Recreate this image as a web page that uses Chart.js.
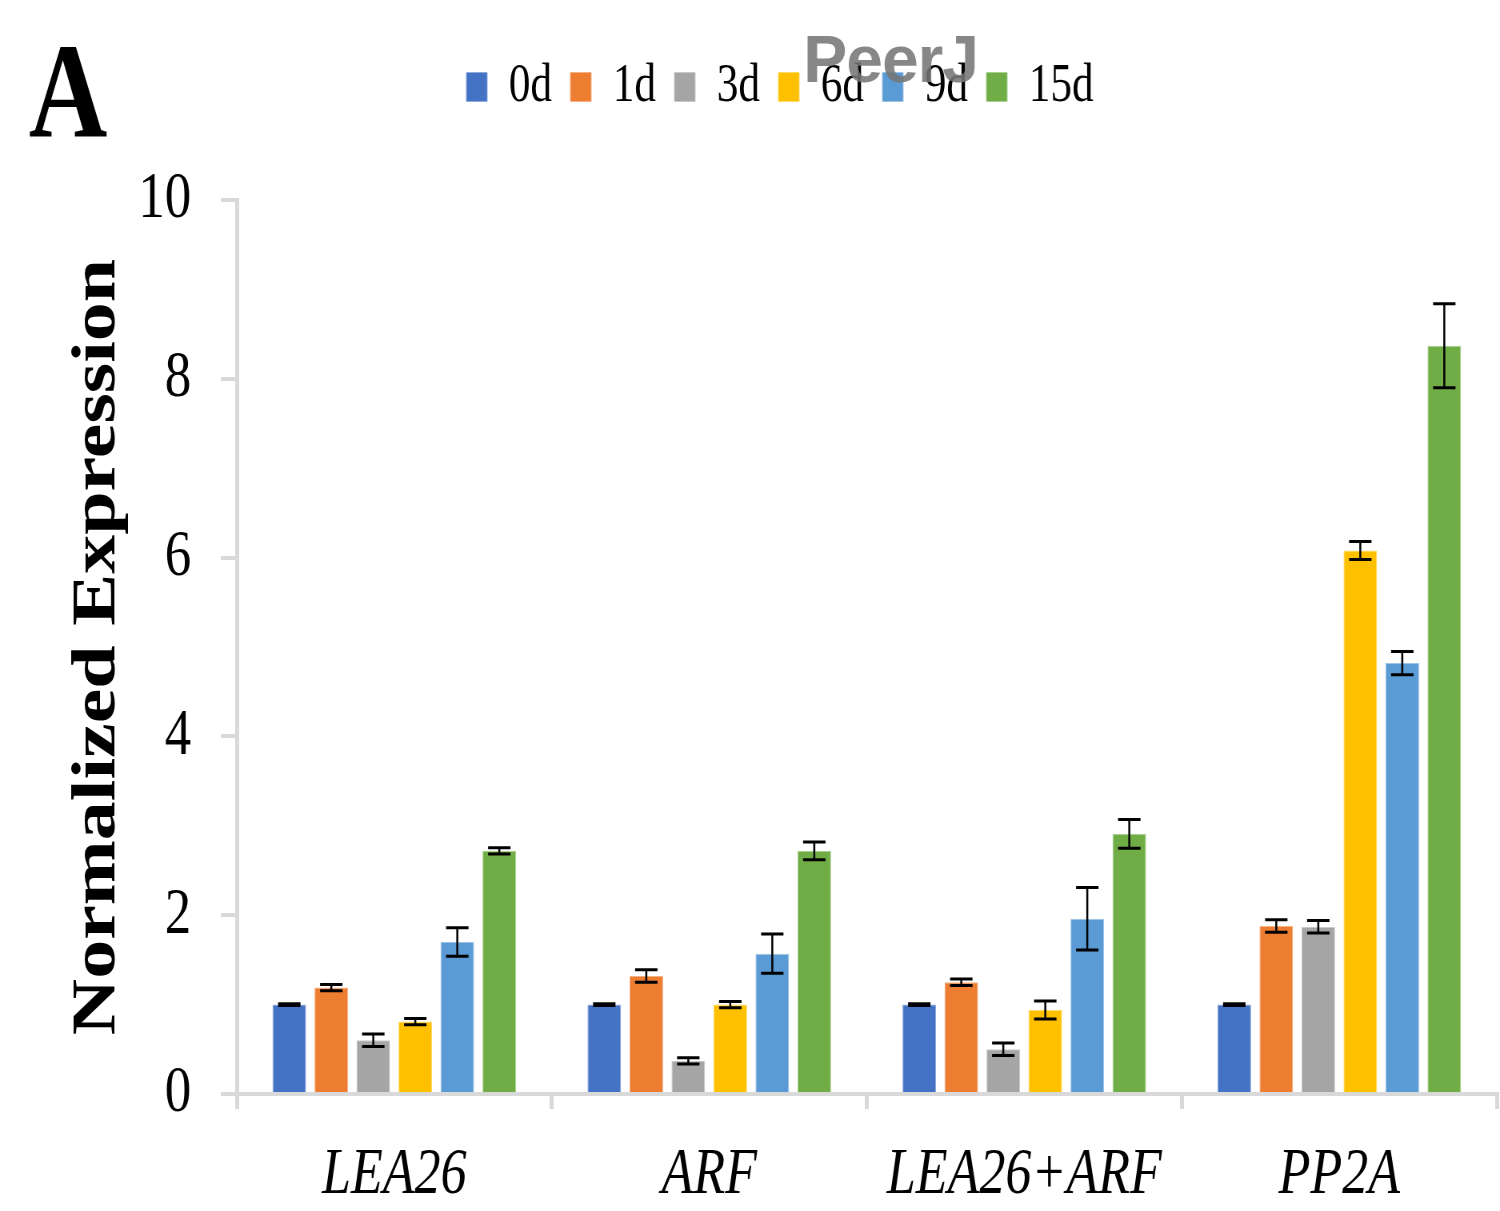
<!DOCTYPE html>
<html>
<head>
<meta charset="utf-8">
<script src="https://cdn.jsdelivr.net/npm/chart.js@4.4.0/dist/chart.umd.min.js"></script>
<style>
  html, body { margin: 0; padding: 0; background: #fff; }
  canvas { display: block; }
</style>
</head>
<body>
<!-- the original figure is squeezed sideways, so the canvas is drawn wider and shrunk by css -->
<canvas id="grafico" width="1875" height="1211" style="width:1500px;height:1211px"></canvas>
<script>
const categories = ['LEA26', 'ARF', 'LEA26+ARF', 'PP2A'];
const seriesLabels = ['0d', '1d', '3d', '6d', '9d', '15d'];
const seriesColors = ['#4472C4', '#ED7D31', '#A5A5A5', '#FFC000', '#5B9BD5', '#70AD47'];
const seriesEdges = ['#8FAADC', '#F4B183', '#C9C9C9', '#FFD966', '#9DC3E6', '#A9D18E'];
const yTicks = [0, 2, 4, 6, 8, 10];

const day0 = [1.00, 1.00, 1.00, 1.00];
const day1 = [1.19, 1.32, 1.25, 1.88];
const day3 = [0.60, 0.37, 0.50, 1.87];
const day6 = [0.81, 1.00, 0.94, 6.08];
const day9 = [1.70, 1.57, 1.96, 4.82];
const day15 = [2.72, 2.72, 2.91, 8.37];

const err0 = [0.01, 0.01, 0.01, 0.01];
const err1 = [0.035, 0.07, 0.035, 0.07];
const err3 = [0.07, 0.035, 0.07, 0.07];
const err6 = [0.035, 0.035, 0.10, 0.10];
const err9 = [0.16, 0.22, 0.35, 0.13];
const err15 = [0.035, 0.10, 0.16, 0.47];

const seriesValues = [day0, day1, day3, day6, day9, day15];
const seriesErrors = [err0, err1, err3, err6, err9, err15];

const SX = 1.25; // 1 / horizontal squeeze

// black error bars, drawn from the y scale
const errorBars = {
    id: 'errorBars',
    afterDatasetsDraw(chart) {
        let ctx = chart.ctx;
        let yScale = chart.scales.y;
        ctx.save();
        ctx.strokeStyle = '#000000';
        chart.data.datasets.forEach((ds, i) => {
            let meta = chart.getDatasetMeta(i);
            meta.data.forEach((bar, j) => {
                let v = ds.data[j];
                let e = ds.errors[j];
                let top = yScale.getPixelForValue(v + e);
                let bottom = yScale.getPixelForValue(v - e);
                ctx.lineWidth = 2.5;
                ctx.beginPath();
                ctx.moveTo(bar.x, top);
                ctx.lineTo(bar.x, bottom);
                ctx.stroke();
                ctx.lineWidth = 3;
                ctx.beginPath();
                ctx.moveTo(bar.x - 14, top);
                ctx.lineTo(bar.x + 14, top);
                ctx.moveTo(bar.x - 14, bottom);
                ctx.lineTo(bar.x + 14, bottom);
                ctx.stroke();
            });
        });
        ctx.restore();
    }
};

// extra room under the legend
const legendGap = {
    id: 'legendGap',
    beforeInit(chart) {
        let fitLegend = chart.legend.fit;
        chart.legend.fit = function () {
            fitLegend.bind(chart.legend)();
            this.height += 76;
        };
    }
};

// panel letter and the watermark
const extras = {
    id: 'extras',
    afterDraw(chart) {
        let ctx = chart.ctx;
        ctx.save();
        ctx.fillStyle = '#000000';
        ctx.textBaseline = 'alphabetic';
        ctx.textAlign = 'left';
        ctx.font = 'bold 136px "Liberation Serif"';
        ctx.fillText('A', 36, 137);

        ctx.translate(1004, 82);
        ctx.scale(SX, 1);
        ctx.font = 'bold 66px "Liberation Sans"';
        ctx.letterSpacing = '-1px';
        ctx.fillStyle = 'rgba(118,118,118,0.88)';
        ctx.fillText('PeerJ', 0, 0);
        ctx.restore();
    }
};

function dibujarGrafico(targetCanvas) {
    let datasets = seriesLabels.map((name, i) => ({
        label: name,
        data: seriesValues[i],
        errors: seriesErrors[i],
        backgroundColor: seriesColors[i],
        borderColor: seriesEdges[i],
        borderWidth: 1,
        categoryPercentage: 0.8,
        barPercentage: 0.8
    }));

    let myChart = new Chart(targetCanvas, {
        type: 'bar',
        data: {
            labels: categories,
            datasets: datasets
        },
        options: {
            responsive: false,
            animation: false,
            devicePixelRatio: 1,
            layout: {
                padding: { left: 79, right: 4, top: 37, bottom: -31 }
            },
            plugins: {
                legend: {
                    position: 'top',
                    labels: {
                        boxWidth: 26,
                        boxHeight: 29,
                        padding: 23,
                        color: '#000000',
                        font: { family: 'Liberation Serif', size: 54, lineHeight: 1 }
                    }
                },
                tooltip: { enabled: false }
            },
            scales: {
                x: {
                    grid: {
                        drawOnChartArea: false,
                        drawTicks: true,
                        tickLength: 15,
                        color: '#D9D9D9',
                        lineWidth: 5,
                        offset: true
                    },
                    border: { color: '#D9D9D9', width: 4 },
                    ticks: {
                        color: '#000000',
                        padding: 34,
                        font: { family: 'Liberation Serif', size: 65, style: 'italic', lineHeight: 1 }
                    }
                },
                y: {
                    min: 0,
                    max: 10,
                    afterBuildTicks: axis => {
                        axis.ticks = yTicks.map(v => ({ value: v }));
                    },
                    grid: {
                        drawOnChartArea: false,
                        drawTicks: true,
                        tickLength: 20,
                        color: '#D9D9D9',
                        lineWidth: 4
                    },
                    border: { color: '#D9D9D9', width: 5 },
                    ticks: {
                        color: '#000000',
                        padding: 37,
                        font: { family: 'Liberation Serif', size: 66 }
                    },
                    title: {
                        display: true,
                        text: 'Normalized Expression',
                        color: '#000000',
                        padding: { top: 5, bottom: -26 },
                        font: { family: 'Liberation Serif', size: 78, weight: 'bold', lineHeight: 1 }
                    }
                }
            }
        },
        plugins: [errorBars, legendGap, extras]
    });

    return myChart;
}

dibujarGrafico(document.getElementById('grafico'));
</script>
</body>
</html>
